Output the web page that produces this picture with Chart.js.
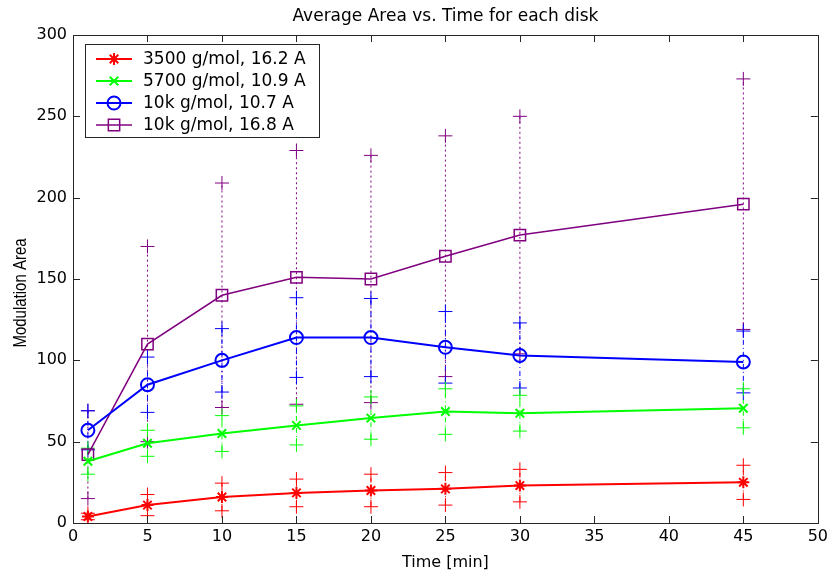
<!DOCTYPE html>
<html>
<head>
<meta charset="utf-8">
<script src="https://cdn.jsdelivr.net/npm/chart.js@4.4.0/dist/chart.umd.min.js"></script>
<style>
  html, body { margin: 0; padding: 0; background: #fff; }
  #wrap { width: 832px; height: 575px; }
</style>
</head>
<body>
<div id="wrap"><canvas id="myChart" width="832" height="575"></canvas></div>
<script>
// time points (minutes)
const times = [1, 5, 10, 15, 20, 25, 30, 45];

// mean modulation area and error (half-length of bars) per disk
const area3500 = [4, 11, 16, 18.5, 20, 21, 23, 25];
const err3500 = [2, 6.5, 8.5, 8.5, 10, 10, 10, 10.5];
const area5700 = [38, 49, 55, 60, 64.5, 68.5, 67.5, 70.5];
const err5700 = [8, 8, 11, 12, 13, 14, 11, 12];
const area10k107 = [57, 85, 100, 114, 114, 108, 103, 99];
const err10k107 = [12, 17, 19.5, 24.5, 24, 22, 20, 19];
const area10k168 = [42, 110, 140, 151, 150, 164, 177, 196];
const err10k168 = [27, 60, 69, 78, 76, 74, 73, 77];

const seriesLabels = ['3500 g/mol, 16.2 A', '5700 g/mol, 10.9 A', '10k g/mol, 10.7 A', '10k g/mol, 16.8 A'];
const xTicks = [0, 5, 10, 15, 20, 25, 30, 35, 40, 45, 50];
const yTicks = [0, 50, 100, 150, 200, 250, 300];

const FONT = '"DejaVu Sans", sans-serif';

const series = [
    { label: seriesLabels[0], values: area3500, errs: err3500, color: '#ff0000', marker: 'star', r: 6, w: 2, dash: [5, 3, 1, 3] },
    { label: seriesLabels[1], values: area5700, errs: err5700, color: '#00ff00', marker: 'crossRot', r: 6, w: 2, dash: [5, 3, 1, 3] },
    { label: seriesLabels[2], values: area10k107, errs: err10k107, color: '#0000ff', marker: 'circle', r: 6.5, w: 2, dash: [5, 3, 1, 3] },
    { label: seriesLabels[3], values: area10k168, errs: err10k168, color: '#800080', marker: 'rect', r: 8, w: 1.5, dash: [2, 3] }
];

const datasets = [];
series.forEach(function(s, k) {
    // main line
    datasets.push({
        label: s.label,
        data: times.map((t, i) => ({ x: t, y: s.values[i] })),
        borderColor: s.color,
        backgroundColor: 'rgba(0,0,0,0)',
        borderWidth: s.w,
        pointStyle: s.marker,
        pointRadius: s.r,
        pointBorderWidth: s.marker === 'rect' ? 1.5 : 2,
        pointBorderColor: s.color,
        pointBackgroundColor: 'rgba(0,0,0,0)',
        showLine: true,
        tension: 0,
        order: 1
    });
    // vertical error lines
    datasets.push({
        label: s.label + ' err',
        data: times.flatMap((t, i) => [
            { x: t, y: s.values[i] - s.errs[i] },
            { x: t, y: s.values[i] + s.errs[i] },
            { x: t, y: null }
        ]),
        borderColor: s.color,
        borderWidth: 1,
        borderDash: s.dash,
        pointRadius: 0,
        showLine: true,
        spanGaps: false,
        order: 3
    });
    // + caps
    datasets.push({
        label: s.label + ' caps',
        data: times.flatMap((t, i) => [
            { x: t, y: s.values[i] - s.errs[i] },
            { x: t, y: s.values[i] + s.errs[i] }
        ]),
        showLine: false,
        pointStyle: 'cross',
        pointRadius: 7,
        pointBorderWidth: 1,
        pointBorderColor: s.color,
        order: 2
    });
});

// box around the axes with ticks pointing inside, like matlab
const boxPlugin = {
    id: 'boxPlugin',
    afterDatasetsDraw(chart) {
        const ctx = chart.ctx;
        const a = chart.chartArea;
        const xs = chart.scales.x, ys = chart.scales.y;
        ctx.save();
        ctx.strokeStyle = '#262626';
        ctx.lineWidth = 1;
        ctx.setLineDash([]);
        ctx.strokeRect(Math.round(a.left) + 0.5, Math.round(a.top) + 0.5, Math.round(a.right - a.left), Math.round(a.bottom - a.top));
        ctx.beginPath();
        xTicks.forEach(v => {
            const px = Math.round(xs.getPixelForValue(v)) + 0.5;
            ctx.moveTo(px, a.bottom); ctx.lineTo(px, a.bottom - 7);
            ctx.moveTo(px, a.top); ctx.lineTo(px, a.top + 7);
        });
        yTicks.forEach(v => {
            const py = Math.round(ys.getPixelForValue(v)) + 0.5;
            ctx.moveTo(a.left, py); ctx.lineTo(a.left + 7, py);
            ctx.moveTo(a.right, py); ctx.lineTo(a.right - 7, py);
        });
        ctx.stroke();

        // title centred over the axes, and y label
        ctx.fillStyle = '#000';
        ctx.font = '17px ' + FONT;
        ctx.textAlign = 'center';
        ctx.textBaseline = 'alphabetic';
        ctx.fillText('Average Area vs. Time for each disk', (a.left + a.right) / 2, 21);

        ctx.translate(26, 293);
        ctx.rotate(-Math.PI / 2);
        ctx.scale(1, 1.25);
        ctx.font = '15px "Liberation Sans", Arial, sans-serif';
        ctx.fillText('Modulation Area', 0, 0);
        ctx.restore();
    }
};

function drawMarker(ctx, style, x, y, r) {
    ctx.beginPath();
    if (style === 'circle') {
        ctx.arc(x, y, r, 0, Math.PI * 2);
    } else if (style === 'rect') {
        const s = r * Math.SQRT1_2;
        ctx.rect(x - s, y - s, 2 * s, 2 * s);
    } else if (style === 'crossRot' || style === 'star') {
        const d = r * Math.SQRT1_2;
        ctx.moveTo(x - d, y - d); ctx.lineTo(x + d, y + d);
        ctx.moveTo(x - d, y + d); ctx.lineTo(x + d, y - d);
        if (style === 'star') {
            ctx.moveTo(x, y - r); ctx.lineTo(x, y + r);
            ctx.moveTo(x - r, y); ctx.lineTo(x + r, y);
        }
    }
    ctx.stroke();
}

const legendPlugin = {
    id: 'legendPlugin',
    afterDraw(chart) {
        const ctx = chart.ctx;
        const bx = 85.5, by = 44.5, bw = 234, bh = 93;
        ctx.save();
        ctx.fillStyle = '#fff';
        ctx.fillRect(bx, by, bw, bh);
        ctx.strokeStyle = '#262626';
        ctx.lineWidth = 1;
        ctx.strokeRect(bx, by, bw, bh);
        ctx.font = '17px ' + FONT;
        ctx.textBaseline = 'middle';
        series.forEach((s, k) => {
            const y = 59 + k * 22;
            ctx.strokeStyle = s.color;
            ctx.lineWidth = s.w;
            ctx.beginPath();
            ctx.moveTo(96, y); ctx.lineTo(132, y);
            ctx.stroke();
            ctx.lineWidth = s.marker === 'rect' ? 1.5 : 2;
            drawMarker(ctx, s.marker, 114, y, s.r);
            ctx.fillStyle = '#000';
            ctx.fillText(s.label, 143, y + 1);
        });
        ctx.restore();
    }
};

const ctx = document.getElementById('myChart').getContext('2d');
const myChart = new Chart(ctx, {
    type: 'scatter',
    data: { datasets: datasets },
    options: {
        responsive: false,
        animation: false,
        events: [],
        layout: { padding: { top: 35, right: 13, bottom: 0, left: 0 } },
        plugins: {
            legend: { display: false },
            tooltip: { enabled: false },
            title: { display: false }
        },
        scales: {
            x: {
                type: 'linear',
                min: 0,
                max: 50,
                grid: { display: false, drawTicks: false },
                border: { display: false },
                ticks: {
                    stepSize: 5,
                    color: '#000',
                    padding: 4,
                    font: { family: FONT, size: 16 }
                },
                title: {
                    display: true,
                    text: 'Time [min]',
                    color: '#000',
                    font: { family: FONT, size: 16 },
                    padding: { top: 0, bottom: 3 }
                },
                afterFit: function(scale) { scale.height = 52; }
            },
            y: {
                min: 0,
                max: 300,
                grid: { display: false, drawTicks: false },
                border: { display: false },
                ticks: {
                    stepSize: 50,
                    color: '#000',
                    padding: 6,
                    font: { family: FONT, size: 16 }
                },
                afterFit: function(scale) { scale.width = 73; }
            }
        }
    },
    plugins: [boxPlugin, legendPlugin]
});
</script>
</body>
</html>
